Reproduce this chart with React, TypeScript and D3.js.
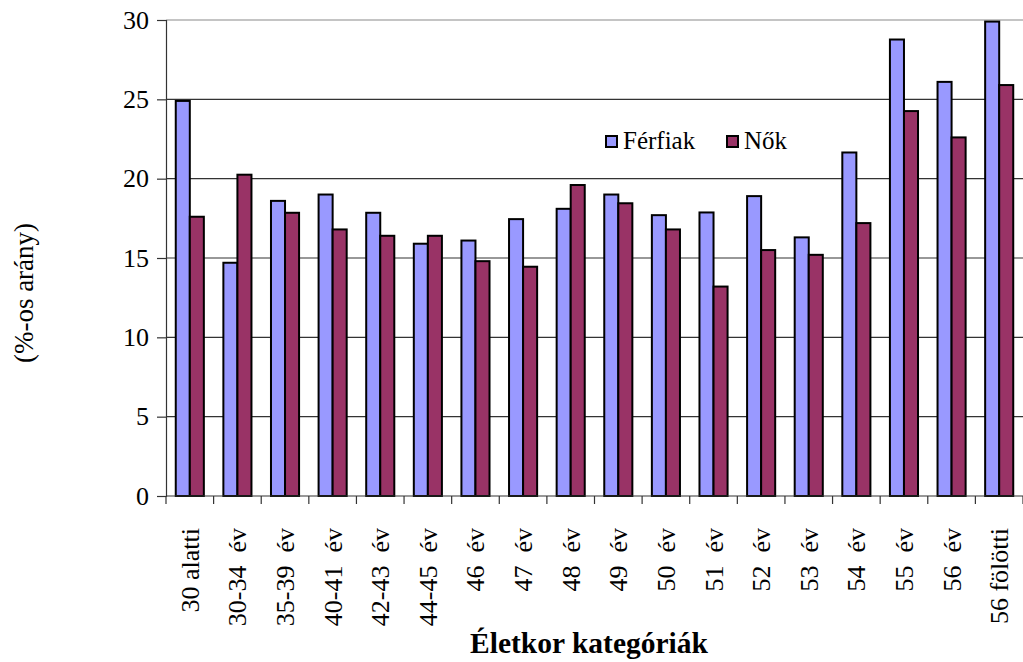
import { useRef, useEffect } from "react";
import * as d3 from "d3";

const categories = [
  "30 alatti",
  "30-34  év",
  "35-39  év",
  "40-41  év",
  "42-43  év",
  "44-45  év",
  "46  év",
  "47  év",
  "48  év",
  "49  év",
  "50  év",
  "51  év",
  "52  év",
  "53  év",
  "54  év",
  "55  év",
  "56  év",
  "56 fölötti",
];
const ferfiak = [24.9, 14.7, 18.6, 19.0, 17.85, 15.9, 16.1, 17.45, 18.1, 19.0, 17.7, 17.87, 18.9, 16.3, 21.65, 28.77, 26.1, 29.9];
const nok = [17.6, 20.25, 17.85, 16.8, 16.4, 16.4, 14.8, 14.45, 19.6, 18.45, 16.8, 13.2, 15.5, 15.2, 17.2, 24.26, 22.6, 25.9];
const seriesNames = ["Férfiak", "Nők"];
const seriesColors = ["#9999FF", "#993366"];
const yTicks = [0, 5, 10, 15, 20, 25, 30];

const FONT = "Liberation Serif";

export default function App() {
  const svgRef = useRef<SVGSVGElement>(null);

  useEffect(() => {
    if (!svgRef.current) return;
    const svg = d3.select(svgRef.current);
    svg.selectAll("*").remove();

    const width = 1023;
    const height = 662;
    const margin = { top: 20, right: 0, bottom: 166, left: 166 };
    const innerW = 857;
    const innerH = height - margin.top - margin.bottom;

    svg.attr("width", width).attr("height", height).attr("font-family", FONT);

    const g = svg
      .append("g")
      .attr("transform", `translate(${margin.left},${margin.top})`);

    const x = d3.scaleBand<string>().domain(categories).range([0, innerW]);
    const y = d3.scaleLinear().domain([0, 30]).range([innerH, 0]);
    const barW = x.bandwidth() * 0.295;

    // Grid lines
    g.append("g")
      .selectAll("line")
      .data(yTicks.filter((t) => t > 0))
      .join("line")
      .attr("x1", 0)
      .attr("x2", innerW)
      .attr("y1", (d) => y(d))
      .attr("y2", (d) => y(d))
      .attr("stroke", (d) => (d === 30 ? "#8a8a8a" : "#333"))
      .attr("stroke-width", 1.2);

    // Bars
    const data = categories.map((c, i) => ({ c, vals: [ferfiak[i], nok[i]] }));
    const groups = g
      .append("g")
      .selectAll("g")
      .data(data)
      .join("g")
      .attr("transform", (d) => `translate(${(x(d.c) ?? 0) + x.bandwidth() / 2 - barW},0)`);
    groups
      .selectAll("rect")
      .data((d) => d.vals)
      .join("rect")
      .attr("x", (_d, i) => i * barW)
      .attr("y", (d) => y(d))
      .attr("width", barW)
      .attr("height", (d) => innerH - y(d))
      .attr("fill", (_d, i) => seriesColors[i])
      .attr("stroke", "#000")
      .attr("stroke-width", 2);

    // Y axis
    const yAxis = g
      .append("g")
      .call(d3.axisLeft(y).tickValues(yTicks).tickSize(9).tickPadding(8));
    yAxis.attr("font-family", FONT).attr("font-size", 26);
    yAxis.select(".domain").attr("stroke", "#333").attr("stroke-width", 1.2);
    yAxis.selectAll(".tick line").attr("stroke", "#333").attr("stroke-width", 1.2);
    yAxis.selectAll("text").attr("fill", "#000");

    // X axis
    const xAxisG = g.append("g").attr("transform", `translate(0,${innerH})`);
    xAxisG
      .append("line")
      .attr("x1", 0)
      .attr("x2", innerW)
      .attr("stroke", "#333")
      .attr("stroke-width", 1.2);
    xAxisG
      .selectAll("line.tk")
      .data(categories.map((c) => x(c) ?? 0).concat([innerW]))
      .join("line")
      .attr("class", "tk")
      .attr("x1", (d) => d)
      .attr("x2", (d) => d)
      .attr("y1", 0)
      .attr("y2", 8)
      .attr("stroke", "#333")
      .attr("stroke-width", 1.2);
    xAxisG
      .selectAll("text")
      .data(categories)
      .join("text")
      .attr(
        "transform",
        (d) => `translate(${(x(d) ?? 0) + x.bandwidth() / 2 + 9},32) rotate(-90)`,
      )
      .attr("text-anchor", "end")
      .attr("xml:space", "preserve")
      .style("white-space", "pre")
      .attr("font-size", 26)
      .attr("fill", "#000")
      .text((d) => d);

    // Axis titles
    svg
      .append("text")
      .attr("x", 589)
      .attr("y", 653)
      .attr("text-anchor", "middle")
      .attr("font-size", 29.5)
      .attr("font-weight", "bold")
      .text("Életkor kategóriák");
    svg
      .append("text")
      .attr("transform", `translate(33,293) rotate(-90)`)
      .attr("text-anchor", "middle")
      .attr("font-size", 27)
      .text("(%-os arány)");

    // Legend
    const legX = [606, 727];
    seriesNames.forEach((name, i) => {
      svg
        .append("rect")
        .attr("x", legX[i])
        .attr("y", 136)
        .attr("width", 11)
        .attr("height", 11)
        .attr("fill", seriesColors[i])
        .attr("stroke", "#000")
        .attr("stroke-width", 2);
      svg
        .append("text")
        .attr("x", legX[i] + 17)
        .attr("y", 149)
        .attr("font-size", 25)
        .text(name);
    });
  }, []);

  return (
    <svg
      ref={svgRef}
      style={{ position: "absolute", left: 0, top: 0, background: "#fff" }}
    />
  );
}
